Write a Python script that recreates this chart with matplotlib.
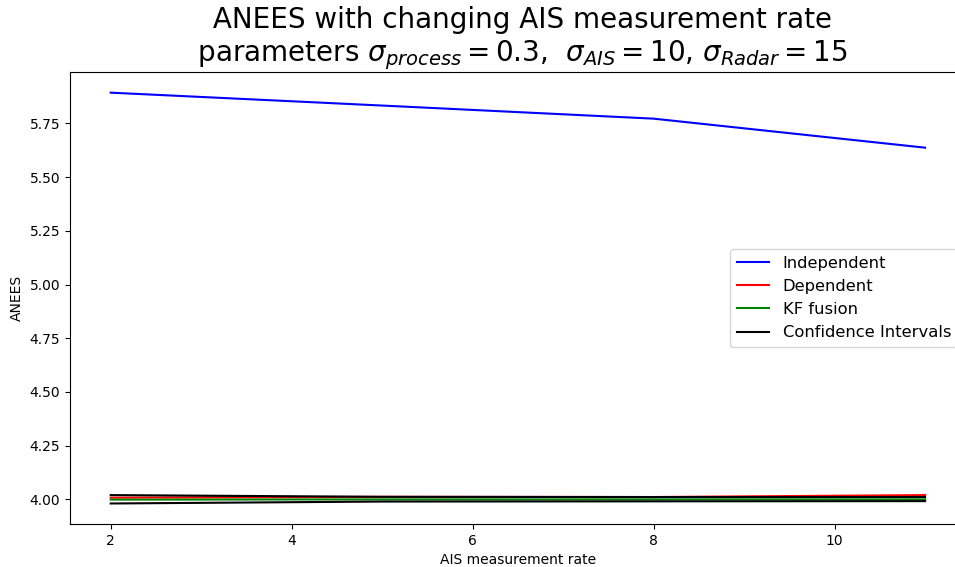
import numpy as np
import matplotlib
matplotlib.use('Agg')
import matplotlib.pyplot as plt

# AIS measurement rates
rates = [2, 5, 8, 11]

# ANEES per method
anees_independent = [5.893, 5.833, 5.772, 5.637]
anees_dependent = [4.008, 4.012, 4.011, 4.020]
anees_kf_fusion = [3.999, 4.000, 4.000, 4.000]

# confidence bounds
ci_upper = [4.020, 4.012, 4.011, 4.011]
ci_lower = [3.981, 3.990, 3.991, 3.992]


def main():
    fig = plt.figure(figsize=(9.55, 5.67), dpi=100)
    # axes run a little past the right edge, as in the reference
    ax = fig.add_axes([0.0733, 0.0758, 0.938, 0.797])

    ax.plot(rates, anees_independent, color='b', label='Independent')
    ax.plot(rates, anees_dependent, color='r', label='Dependent')
    ax.plot(rates, anees_kf_fusion, color='g', label='KF fusion')
    ax.plot(rates, ci_upper, color='k', label='Confidence Intervals')
    ax.plot(rates, ci_lower, color='k')

    ax.set_title(' ANEES with changing AIS measurement rate\n parameters '
                 r'$\sigma_{process} = 0.3$,  $\sigma_{AIS} = 10$, $\sigma_{Radar} = 15$',
                 fontsize=20)
    ax.set_xlabel('AIS measurement rate')
    ax.set_ylabel('ANEES')
    ax.legend(loc='center right', fontsize=11.8, labelspacing=0.5)

    fig.savefig('out.png', dpi=100)


if __name__ == '__main__':
    main()
